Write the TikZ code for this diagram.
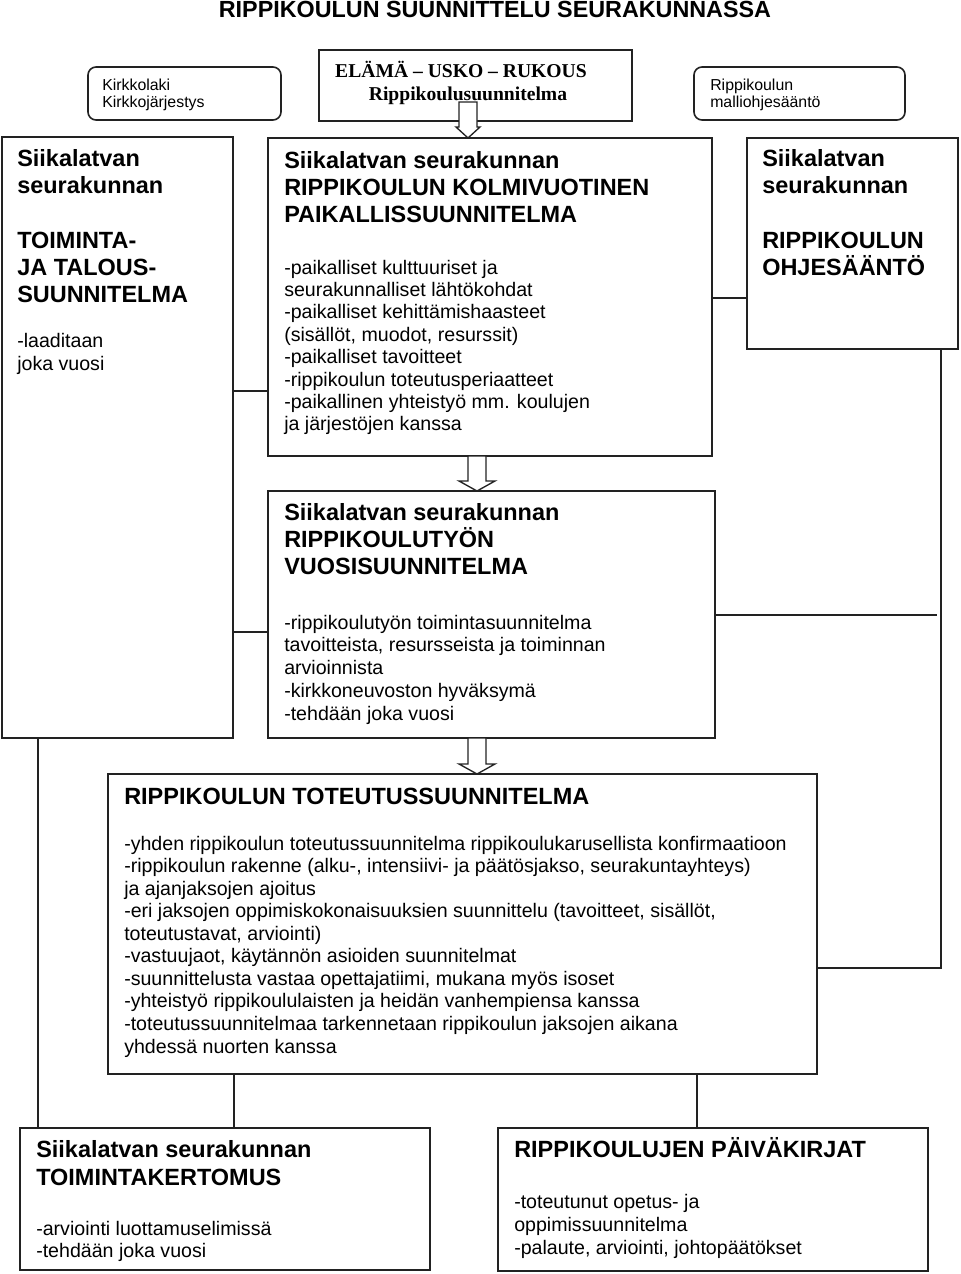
\documentclass[tikz,border=0pt]{standalone}
\usepackage{fontspec}
\setmainfont{Liberation Sans}
\newfontfamily\serifbf{Liberation Serif}
\usetikzlibrary{calc}
\definecolor{lc}{HTML}{222222}
\tikzset{
  boxr/.style={draw=lc, line width=1.2pt, inner sep=0pt, outer sep=0pt, anchor=north west},
  conn/.style={draw=lc, line width=1pt},
  hd/.style={anchor=base west, inner sep=0pt, font=\bfseries\fontsize{17.6pt}{20pt}\selectfont},
  ls/.style={anchor=base west, inner sep=0pt, font=\fontsize{14.7pt}{17pt}\selectfont},
  sm/.style={anchor=base west, inner sep=0pt, font=\fontsize{11.9pt}{14pt}\selectfont},
  sf/.style={anchor=base, inner sep=0pt, font=\serifbf\bfseries\fontsize{14.7pt}{17pt}\selectfont},
  ttl/.style={anchor=base, inner sep=0pt, font=\bfseries\fontsize{17.5pt}{20pt}\selectfont},
  barrow/.style={draw=lc, line width=1pt, fill=white},
}
\newcommand\mkbox[6][]{\node[boxr,#1,minimum width=#5*0.75pt, minimum height=#6*0.75pt] (#2) at (#3,#4) {};}
\newcommand\txlines[6]{\foreach \tx [count=\i] in {#6} \node[#1] (#2\i) at (#3,{#4+#5*(\i-1)}) {\tx};}
% #1 id, #2 from, #3 to, #4 x-coordinate name, #5 half shaft, #6 half head, #7 head length, #8 shaft extension
\newcommand\barr[8]{%
  \coordinate (bs#1) at (#2.south -| #4);
  \coordinate (bt#1) at (#3.north -| #4);
  \draw[barrow] ($(bs#1)+(-#5,-#8)$) -- ($(bs#1)+(#5,-#8)$) -- ($(bt#1)+(#5,-#7)$) -- ($(bt#1)+(#6,-#7)$) -- (bt#1) -- ($(bt#1)+(-#6,-#7)$) -- ($(bt#1)+(-#5,-#7)$) -- cycle;}
\begin{document}
\begin{tikzpicture}[x=0.75pt,y=-0.75pt]
\useasboundingbox (0,0) rectangle (960,1274);

% title
\node[ttl] (title) at (495,17) {RIPPIKOULUN SUUNNITTELU SEURAKUNNASSA};

% boxes
\mkbox[rounded corners=6pt]{kirk}{88}{67}{193}{53}
\mkbox{elama}{319}{50}{313}{71}
\mkbox[rounded corners=6pt]{malli}{694}{67}{211}{53}
\mkbox{toim}{2}{137}{231}{601}
\mkbox{kolmi}{268}{138}{444}{318}
\mkbox{ohje}{747}{138}{211}{211}
\mkbox{vuosi}{268}{491}{447}{247}
\mkbox{tot}{108}{774}{709}{300}
\mkbox{kert}{20}{1128}{410}{142}
\mkbox{paiva}{498}{1128}{430}{143}

% helper coordinates
\coordinate (y1) at (0,391);
\coordinate (y2) at (0,298);
\coordinate (y3) at (0,632);
\coordinate (y4) at (0,615);
\coordinate (y5) at (0,968);
\coordinate (rx) at (941,0);
\coordinate (lx) at (38,0);
\coordinate (mx1) at (234,0);
\coordinate (mx2) at (697,0);
\coordinate (j1) at (937,615);
\coordinate (ax1) at (468,0);
\coordinate (ax2) at (477,0);

% connectors
\draw[conn] (toim.east |- y1) -- (kolmi.west |- y1);
\draw[conn] (kolmi.east |- y2) -- (ohje.west |- y2);
\draw[conn] (toim.east |- y3) -- (vuosi.west |- y3);
\draw[conn] (vuosi.east |- y4) -- (j1);
\draw[conn] (ohje.south -| rx) |- (tot.east |- y5);
\draw[conn] (toim.south -| lx) -- (kert.north -| lx);
\draw[conn] (tot.south -| mx1) -- (kert.north -| mx1);
\draw[conn] (tot.south -| mx2) -- (paiva.north -| mx2);

% block arrows
\barr{1}{elama}{kolmi}{ax1}{9}{12}{11}{19}
\barr{2}{kolmi}{vuosi}{ax2}{9}{18}{10}{0}
\barr{3}{vuosi}{tot}{ax2}{9}{18}{10}{0}

% top small boxes text
\txlines{sm}{ka}{102}{90}{17}{Kirkkolaki,Kirkkojärjestys}
\txlines{sm}{ma}{710}{90}{17}{Rippikoulun,malliohjesääntö}
\node[sf] (el1) at (461,77) {ELÄMÄ – USKO – RUKOUS};
\node[sf] (el2) at (468,100) {Rippikoulusuunnitelma};

% left box
\txlines{hd}{ta}{17}{166}{27}{Siikalatvan,seurakunnan}
\txlines{hd}{tb}{17}{248}{27}{TOIMINTA-,JA TALOUS-,SUUNNITELMA}
\txlines{ls}{tc}{17}{347}{23}{-laaditaan,joka vuosi}

% kolmivuotinen
\txlines{hd}{ka}{284}{168}{27}{Siikalatvan seurakunnan,RIPPIKOULUN KOLMIVUOTINEN,PAIKALLISSUUNNITELMA}
\txlines{ls}{kb}{284}{274}{22.4}{-paikalliset kulttuuriset ja,seurakunnalliset lähtökohdat,-paikalliset kehittämishaasteet,{(sisällöt, muodot, resurssit)},-paikalliset tavoitteet,-rippikoulun toteutusperiaatteet,-paikallinen yhteistyö mm. koulujen,ja järjestöjen kanssa}

% ohjesääntö
\txlines{hd}{oa}{762}{166}{27}{Siikalatvan,seurakunnan}
\txlines{hd}{ob}{762}{248}{27}{RIPPIKOULUN,OHJESÄÄNTÖ}

% vuosisuunnitelma
\txlines{hd}{va}{284}{520}{27}{Siikalatvan seurakunnan,RIPPIKOULUTYÖN,VUOSISUUNNITELMA}
\txlines{ls}{vb}{284}{629}{22.75}{-rippikoulutyön toimintasuunnitelma,{tavoitteista, resursseista ja toiminnan},arvioinnista,-kirkkoneuvoston hyväksymä,-tehdään joka vuosi}

% toteutussuunnitelma
\node[hd] (tta) at (124,804) {RIPPIKOULUN TOTEUTUSSUUNNITELMA};
\txlines{ls}{ttb}{124}{850}{22.56}{-yhden rippikoulun toteutussuunnitelma rippikoulukarusellista konfirmaatioon,{-rippikoulun rakenne (alku-, intensiivi- ja päätösjakso, seurakuntayhteys)},ja ajanjaksojen ajoitus,{-eri jaksojen oppimiskokonaisuuksien suunnittelu (tavoitteet, sisällöt,},{toteutustavat, arviointi)},{-vastuujaot, käytännön asioiden suunnitelmat},{-suunnittelusta vastaa opettajatiimi, mukana myös isoset},-yhteistyö rippikoululaisten ja heidän vanhempiensa kanssa,-toteutussuunnitelmaa tarkennetaan rippikoulun jaksojen aikana,yhdessä nuorten kanssa}

% toimintakertomus
\txlines{hd}{kea}{36}{1157}{28}{Siikalatvan seurakunnan,TOIMINTAKERTOMUS}
\txlines{ls}{keb}{36}{1235}{22.5}{-arviointi luottamuselimissä,-tehdään joka vuosi}

% päiväkirjat
\node[hd] (pa) at (514,1157) {RIPPIKOULUJEN PÄIVÄKIRJAT};
\txlines{ls}{pb}{514}{1208}{23}{-toteutunut opetus- ja,oppimissuunnitelma,{-palaute, arviointi, johtopäätökset}}
\end{tikzpicture}
\end{document}
